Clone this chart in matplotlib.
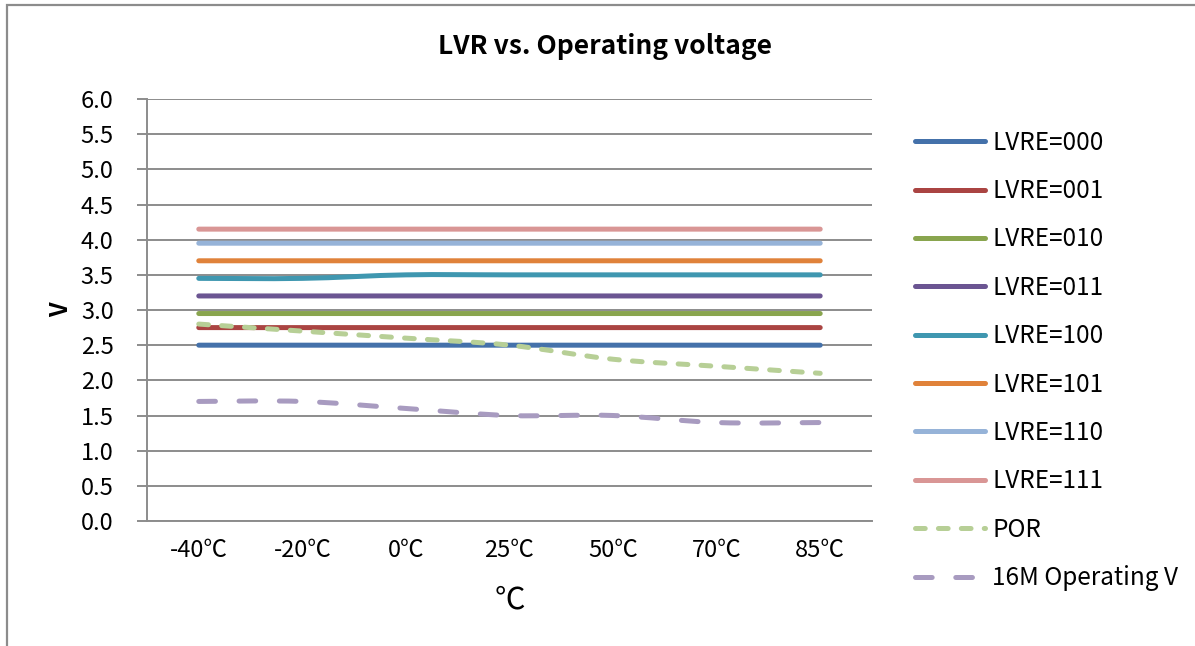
import matplotlib
matplotlib.use("Agg")
import matplotlib.pyplot as plt
from matplotlib.patches import Rectangle, PathPatch
from matplotlib.path import Path
from matplotlib.lines import Line2D

plt.rcParams['font.family'] = ['Noto Sans CJK SC', 'DejaVu Sans']
plt.rcParams['lines.scale_dashes'] = False

categories = ['-40℃', '-20℃', '0℃', '25℃', '50℃', '70℃', '85℃']
lvre_000 = [2.5, 2.5, 2.5, 2.5, 2.5, 2.5, 2.5]
lvre_001 = [2.75, 2.75, 2.75, 2.75, 2.75, 2.75, 2.75]
lvre_010 = [2.95, 2.95, 2.95, 2.95, 2.95, 2.95, 2.95]
lvre_011 = [3.2, 3.2, 3.2, 3.2, 3.2, 3.2, 3.2]
lvre_100 = [3.45, 3.45, 3.5, 3.5, 3.5, 3.5, 3.5]
lvre_101 = [3.7, 3.7, 3.7, 3.7, 3.7, 3.7, 3.7]
lvre_110 = [3.95, 3.95, 3.95, 3.95, 3.95, 3.95, 3.95]
lvre_111 = [4.15, 4.15, 4.15, 4.15, 4.15, 4.15, 4.15]
por = [2.8, 2.7, 2.6, 2.5, 2.3, 2.2, 2.1]
op_16m = [1.7, 1.7, 1.6, 1.5, 1.5, 1.4, 1.4]
y_ticks = [0.0, 0.5, 1.0, 1.5, 2.0, 2.5, 3.0, 3.5, 4.0, 4.5, 5.0, 5.5, 6.0]

series = [
    ('LVRE=000', lvre_000, '#4471AA', '-'),
    ('LVRE=001', lvre_001, '#AA4442', '-'),
    ('LVRE=010', lvre_010, '#89A54E', '-'),
    ('LVRE=011', lvre_011, '#6B5592', '-'),
    ('LVRE=100', lvre_100, '#3F97B0', '-'),
    ('LVRE=101', lvre_101, '#E0823A', '-'),
    ('LVRE=110', lvre_110, '#96B3D8', '-'),
    ('LVRE=111', lvre_111, '#D99695', '-'),
    ('POR', por, '#B7CF96', (0, (7.0, 9.5))),
    ('16M Operating V', op_16m, '#A89BC0', (0, (12.0, 17.0))),
]


def smooth_path(xs, ys):
    """Excel-style smoothed line: cubic Bezier segments through the data points."""
    n = len(xs)
    verts = [(xs[0], ys[0])]
    codes = [Path.MOVETO]
    for i in range(n - 1):
        xp, yp = (xs[i - 1], ys[i - 1]) if i > 0 else (xs[i], ys[i])
        xn2, yn2 = (xs[i + 2], ys[i + 2]) if i + 2 < n else (xs[i + 1], ys[i + 1])
        c1 = (xs[i] + (xs[i + 1] - xp) / 6.0, ys[i] + (ys[i + 1] - yp) / 6.0)
        c2 = (xs[i + 1] - (xn2 - xs[i]) / 6.0, ys[i + 1] - (yn2 - ys[i]) / 6.0)
        verts += [c1, c2, (xs[i + 1], ys[i + 1])]
        codes += [Path.CURVE4, Path.CURVE4, Path.CURVE4]
    return Path(verts, codes)


fig = plt.figure(figsize=(11.95, 6.46), dpi=100)
ax = fig.add_axes([0.1230, 0.1935, 0.7297 - 0.1230, 0.8467 - 0.1935])

x = list(range(len(categories)))
handles = []
for name, vals, color, ls in series:
    patch = PathPatch(smooth_path(x, vals), fill=False, edgecolor=color, lw=3.6,
                      linestyle=ls, capstyle='round', joinstyle='round')
    ax.add_patch(patch)
    handles.append(Line2D([], [], color=color, lw=3.6, linestyle=ls,
                          solid_capstyle='round', dash_capstyle='round', label=name))

ax.set_xlim(-0.5, len(categories) - 0.5)
ax.set_ylim(0, 6)
ax.set_yticks(y_ticks)
ax.set_yticklabels([f'{v:.1f}' for v in y_ticks])
ax.set_xticks(x)
ax.set_xticklabels(categories)
ax.yaxis.grid(True, color='#8C8C8C', lw=1.4)
ax.set_axisbelow(True)
for s in ['top', 'right']:
    ax.spines[s].set_visible(False)
for s in ['left', 'bottom']:
    ax.spines[s].set_color('#8C8C8C')
    ax.spines[s].set_linewidth(1.4)
ax.tick_params(axis='y', length=7, width=1.4, color='#8C8C8C', pad=17, labelsize=17)
ax.tick_params(axis='x', length=0, pad=13, labelsize=17)

ax.set_ylabel('V', fontsize=17, fontweight='bold', labelpad=5)
ax.set_xlabel('℃', fontsize=22, labelpad=16)
fig.text(0.506, 0.928, 'LVR vs. Operating voltage', ha='center', va='center',
         fontsize=19, fontweight='bold')

leg = fig.legend(handles=handles, loc='upper left', bbox_to_anchor=(0.747, 0.833),
                 frameon=False, fontsize=17.5, handlelength=2.9, handletextpad=0.3,
                 labelspacing=0.92)

fig.patches.append(Rectangle((7 / 1195, -0.2), 1.2, 1.2 - 5 / 646 + 0.0,
                             transform=fig.transFigure, fill=False,
                             edgecolor='#8C8C8C', lw=1.6))

fig.savefig('out.png', dpi=100)
